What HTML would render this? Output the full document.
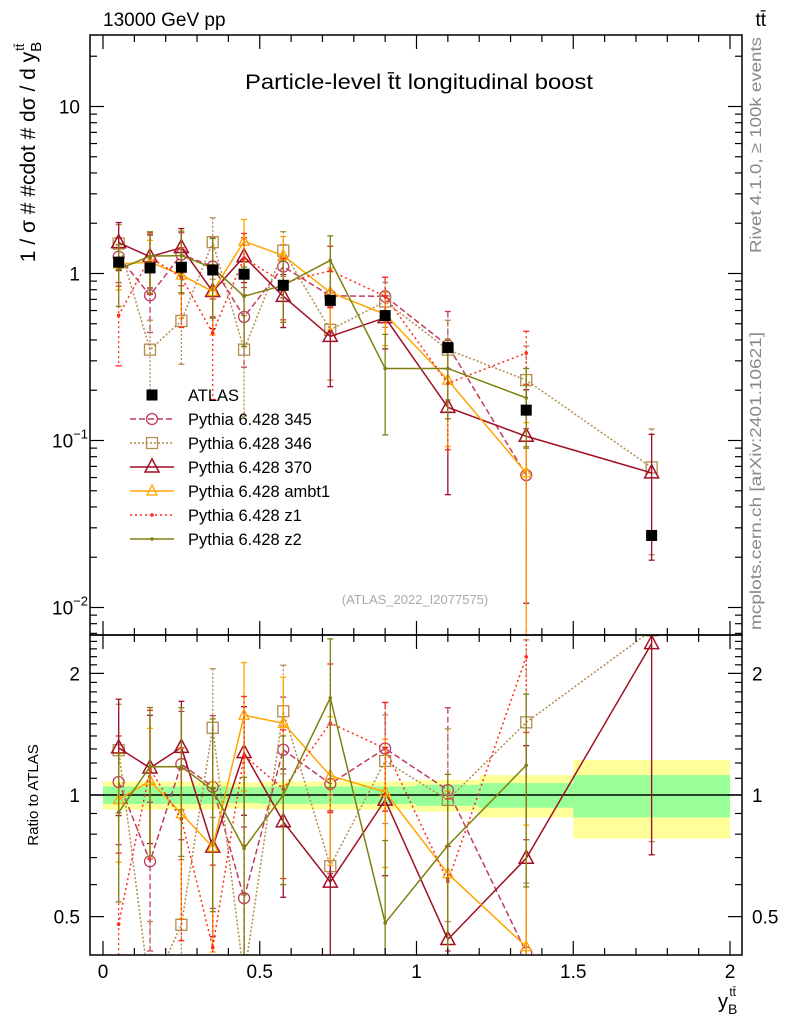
<!DOCTYPE html>
<html><head><meta charset="utf-8">
<style>
html,body{margin:0;padding:0;background:#fff;overflow:hidden;}
svg{display:block;font-family:"Liberation Sans",sans-serif;}
</style></head>
<body>
<svg id="c" width="786" height="1024" viewBox="0 0 786 1024">
<defs>
<clipPath id="cm"><rect x="90" y="35" width="652" height="600"/></clipPath>
<clipPath id="cr"><rect x="90" y="635" width="652" height="320"/></clipPath>
</defs>
<g id="bands" clip-path="url(#cr)"></g>
<g id="main" clip-path="url(#cm)"></g>
<g id="ratio" clip-path="url(#cr)"></g>
<g id="axes"></g>
<g id="legend"></g>
<text x="103" y="26" font-size="19">13000 GeV pp</text>
<text x="766" y="26" font-size="19" text-anchor="end">tt̄</text>
<text x="245" y="89" font-size="21" textLength="348" lengthAdjust="spacingAndGlyphs">Particle-level t̄t longitudinal boost</text>
<text x="415" y="604" font-size="13" fill="#aaa" text-anchor="middle">(ATLAS_2022_I2077575)</text>
<text transform="translate(761,253) rotate(-90)" font-size="16" fill="#888" textLength="216" lengthAdjust="spacingAndGlyphs">Rivet 4.1.0, ≥ 100k events</text>
<text transform="translate(761,630) rotate(-90)" font-size="16" fill="#888" textLength="298" lengthAdjust="spacingAndGlyphs">mcplots.cern.ch [arXiv:2401.10621]</text>
<text transform="translate(35,152) rotate(-90)" font-size="21" text-anchor="middle">1 / σ # #cdot # dσ / d y<tspan font-size="15" dy="6">B</tspan><tspan font-size="13" dy="-17" dx="-9">tt̄</tspan></text>
<text transform="translate(38,795) rotate(-90)" font-size="15" text-anchor="middle">Ratio to ATLAS</text>
<text x="718" y="1008" font-size="20">y<tspan font-size="14" dy="6">B</tspan><tspan font-size="12" dy="-18" dx="-8">tt̄</tspan></text>
</svg>
<script>
const xCenters=[0.05,0.15,0.25,0.35,0.45,0.575,0.725,0.9,1.1,1.35,1.75];
const xEdges=[0,0.1,0.2,0.3,0.4,0.5,0.65,0.8,1.0,1.2,1.5,2.0];
const atlasVals=[1.17,1.08,1.09,1.05,0.99,0.85,0.69,0.56,0.36,0.152,0.027];
const bandGreen=[0.05,0.05,0.05,0.05,0.045,0.05,0.05,0.05,0.06,0.07,0.12];
const bandYellow=[0.08,0.08,0.08,0.08,0.075,0.08,0.08,0.08,0.09,0.12,0.22];
const v345=[1.26,0.74,1.30,1.10,0.55,1.10,0.735,0.73,0.37,0.062,null];
const e345=[0.3,0.4,0.35,0.5,0.5,0.35,0.4,0.3,0.6,0.9,0];
const v346=[1.51,0.35,0.52,1.54,0.35,1.37,0.46,0.68,0.35,0.23,0.069];
const e346=[0.3,0.5,0.45,0.4,0.6,0.3,0.5,0.3,0.5,0.6,0.7];
const v370=[1.53,1.26,1.43,0.78,1.26,0.73,0.42,0.544,0.158,0.106,0.064];
const e370=[0.32,0.35,0.3,0.4,0.3,0.35,0.5,0.35,0.7,0.9,0.7];
const vAmbt1=[1.14,1.17,0.98,0.78,1.56,1.28,0.77,0.57,0.23,0.064,null];
const eAmbt1=[0.3,0.35,0.45,0.45,0.35,0.3,0.4,0.35,0.6,1.0,0];
const vZ1=[0.56,1.25,0.95,0.44,1.24,0.88,1.04,0.73,0.22,0.334,null];
const eZ1=[0.5,0.4,0.5,0.6,0.4,0.4,0.4,0.3,0.6,0.35,0];
const vZ2=[1.06,1.27,1.28,1.08,0.73,0.85,1.20,0.27,0.27,0.18,null];
const eZ2=[0.4,0.4,0.4,0.5,0.5,0.4,0.4,0.6,0.5,0.5,0];
const series=[
 {name:'Pythia 6.428 345',v:v345,e:e345,c:'#c23c5e',dash:'6,3',m:'circle',id:'pythia-345'},
 {name:'Pythia 6.428 346',v:v346,e:e346,c:'#b48c50',dash:'2,2',m:'square',id:'pythia-346'},
 {name:'Pythia 6.428 370',v:v370,e:e370,c:'#a00f25',dash:'',m:'tri',id:'pythia-370'},
 {name:'Pythia 6.428 ambt1',v:vAmbt1,e:eAmbt1,c:'#ffa500',dash:'',m:'tris',id:'pythia-ambt1'},
 {name:'Pythia 6.428 z1',v:vZ1,e:eZ1,c:'#ff2a1a',dash:'2,3',m:'dot',id:'pythia-z1'},
 {name:'Pythia 6.428 z2',v:vZ2,e:eZ2,c:'#808010',dash:'',m:'dot',id:'pythia-z2'}
];
const NS='http://www.w3.org/2000/svg';
const R=742;
const X=v=>103+313.5*v;
const Y=v=>273.5-167*Math.log10(v);
const YR=r=>795-404*Math.log10(r);
function el(tag,attrs,parent){const e=document.createElementNS(NS,tag);for(const k in attrs)e.setAttribute(k,attrs[k]);parent.appendChild(e);return e;}
const gM=document.getElementById('main'),gR=document.getElementById('ratio'),gB=document.getElementById('bands'),gA=document.getElementById('axes'),gL=document.getElementById('legend');
for(let i=0;i<atlasVals.length;i++){
 const y1=el('rect',{x:X(xEdges[i]),y:YR(1+bandYellow[i]),width:X(xEdges[i+1])-X(xEdges[i]),height:YR(1-bandYellow[i])-YR(1+bandYellow[i]),fill:'#ffff99'},gB);
 
 
 const g1=el('rect',{x:X(xEdges[i]),y:YR(1+bandGreen[i]),width:X(xEdges[i+1])-X(xEdges[i]),height:YR(1-bandGreen[i])-YR(1+bandGreen[i]),fill:'#99ff99'},gB);
 
 
}
el('line',{x1:90,x2:R,y1:YR(1),y2:YR(1),stroke:'#000','stroke-width':1.5},gR);
function marker(m,x,y,c,parent){
 let e;
 if(m==='circle')e=el('circle',{cx:x,cy:y,r:5.5,fill:'none',stroke:c,'stroke-width':1.3},parent);
 else if(m==='square')e=el('rect',{x:x-5.5,y:y-5.5,width:11,height:11,fill:'none',stroke:c,'stroke-width':1.3},parent);
 else if(m==='tri')e=el('polygon',{points:`${x},${y-8} ${x-7},${y+5} ${x+7},${y+5}`,fill:'none',stroke:c,'stroke-width':1.5},parent);
 else if(m==='tris')e=el('polygon',{points:`${x},${y-6} ${x-5},${y+4} ${x+5},${y+4}`,fill:'none',stroke:c,'stroke-width':1.3},parent);
 else if(m==='fsq')e=el('rect',{x:x-5.5,y:y-5.5,width:11,height:11,fill:c},parent);
 else e=el('circle',{cx:x,cy:y,r:1.8,fill:c},parent);
 return e;
}
function drawSeries(s,g,yf,ratio,ybot){
 let pts=[];
 const grp=el('g',{},g);
 
 
 s.v.forEach((v,i)=>{
  if(v==null)return;
  const val=ratio?v/atlasVals[i]:v;
  const x=X(xCenters[i]),y=yf(val);
  pts.push(x+','+Math.min(y,ybot+40));
  const lo=val*(1-s.e[i]);
  const ylo=lo>0?Math.min(yf(lo),ybot+5):ybot+5;
  const b=el('line',{x1:x,x2:x,y1:yf(val*(1+s.e[i])),y2:ylo,stroke:s.c,'stroke-width':1.3,'stroke-dasharray':s.dash},grp);
  
  
  el('line',{x1:x-3,x2:x+3,y1:yf(val*(1+s.e[i])),y2:yf(val*(1+s.e[i])),stroke:s.c,'stroke-width':1.3},grp);
  if(lo>0)el('line',{x1:x-3,x2:x+3,y1:ylo,y2:ylo,stroke:s.c,'stroke-width':1.3},grp);
 });
 const pl=el('polyline',{points:pts.join(' '),fill:'none',stroke:s.c,'stroke-width':1.5,'stroke-dasharray':s.dash},grp);
 
 
 s.v.forEach((v,i)=>{
  if(v==null)return;
  const val=ratio?v/atlasVals[i]:v;
  const mk=marker(s.m,X(xCenters[i]),yf(val),s.c,grp);
  
  
 });
}
series.forEach(s=>{drawSeries(s,gM,Y,false,635);drawSeries(s,gR,YR,true,955);});
atlasVals.forEach((v,i)=>{
 const mk=marker('fsq',X(xCenters[i]),Y(v),'#000',gM);
 
 
 const eb=el('line',{x1:X(xCenters[i]),x2:X(xCenters[i]),y1:Y(v*1.08),y2:Y(v/1.08),stroke:'#000','stroke-width':1.3},gM);
 
 
});
el('rect',{x:90,y:35,width:R-90,height:600,fill:'none',stroke:'#000','stroke-width':1.5},gA);
el('rect',{x:90,y:635,width:R-90,height:320,fill:'none',stroke:'#000','stroke-width':1.5},gA);
for(let k=0;k<=20;k++){
 const v=k*0.1,x=X(v),maj=k%5===0,len=maj?14:7;
 el('line',{x1:x,x2:x,y1:955,y2:955-len,stroke:'#000','stroke-width':1.2},gA);
 el('line',{x1:x,x2:x,y1:635,y2:635+len,stroke:'#000','stroke-width':1.2},gA);
 el('line',{x1:x,x2:x,y1:635,y2:635-len,stroke:'#000','stroke-width':1.2},gA);
 el('line',{x1:x,x2:x,y1:35,y2:35+len,stroke:'#000','stroke-width':1.2},gA);
}
const xTickLabels=['0','0.5','1','1.5','2'];
xTickLabels.forEach((t,i)=>{const tx=el('text',{x:X(i*0.5),y:978,'font-size':19,'text-anchor':'middle'},gA);tx.textContent=t;});
for(let d=-3;d<=1;d++){for(let m=1;m<=9;m++){const v=m*Math.pow(10,d),y=Y(v);if(y<35||y>635)continue;const len=m===1?14:7;
 el('line',{x1:90,x2:90+len,y1:y,y2:y,stroke:'#000','stroke-width':1.2},gA);
 el('line',{x1:R,x2:R-len,y1:y,y2:y,stroke:'#000','stroke-width':1.2},gA);}}
const yl=[[10,'10'],[1,'1']];
yl.forEach(([v,t])=>{const tx=el('text',{x:80,y:Y(v)+7,'font-size':19,'text-anchor':'end'},gA);tx.textContent=t;});
[[-1,0.1],[-2,0.01]].forEach(([p,v])=>{const tx=el('text',{x:52,y:Y(v)+7,'font-size':19},gA);tx.innerHTML='10<tspan font-size="13" dy="-9">−'+(-p)+'</tspan>';});
for(let r=0.4;r<=2.5;r+=0.1){const y=YR(r);if(y<635||y>955)continue;const maj=Math.abs(r-0.5)<1e-6||Math.abs(r-1)<1e-6||Math.abs(r-2)<1e-6;const len=maj?14:7;
 el('line',{x1:90,x2:90+len,y1:y,y2:y,stroke:'#000','stroke-width':1.2},gA);
 el('line',{x1:R,x2:R-len,y1:y,y2:y,stroke:'#000','stroke-width':1.2},gA);}
[[2,'2'],[1,'1'],[0.5,'0.5']].forEach(([v,t])=>{
 const a=el('text',{x:80,y:YR(v)+7,'font-size':19,'text-anchor':'end'},gA);a.textContent=t;
 const b=el('text',{x:752,y:YR(v)+7,'font-size':19},gA);b.textContent=t;});
const lx=152,lt=188;let ly=395;
const a0=marker('fsq',lx,ly,'#000',gL);
let t0=el('text',{x:lt,y:ly+6,'font-size':16.5},gL);t0.textContent='ATLAS';
series.forEach((s,i)=>{const y=395+24*(i+1);
 el('line',{x1:lx-22,x2:lx+22,y1:y,y2:y,stroke:s.c,'stroke-width':1.5,'stroke-dasharray':s.dash},gL);
 marker(s.m,lx,y,s.c,gL);
 const t=el('text',{x:lt,y:y+6,'font-size':16.5},gL);t.textContent=s.name;
 
 });
</script>
</body></html>
